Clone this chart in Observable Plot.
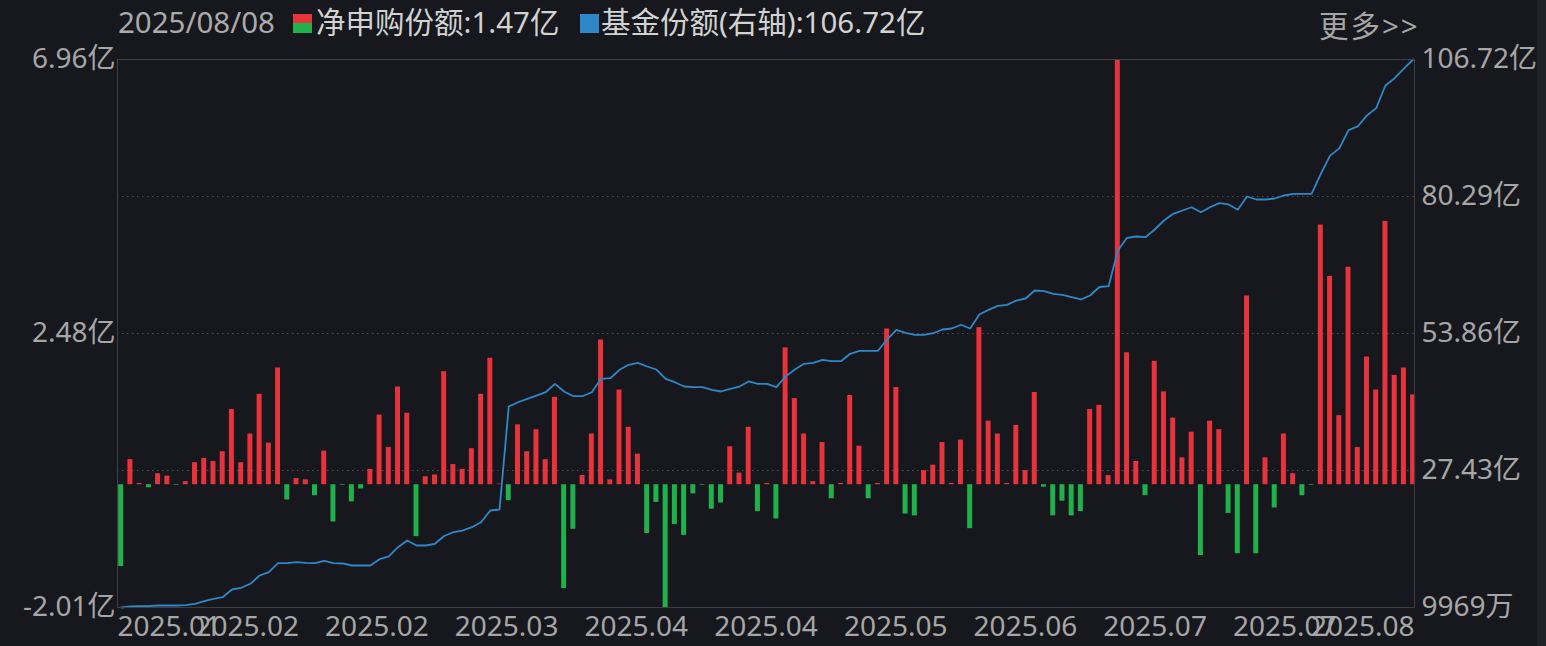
<!DOCTYPE html>
<html>
<head>
<meta charset="utf-8">
<script src="https://cdn.jsdelivr.net/npm/d3@7"></script>
<script src="https://cdn.jsdelivr.net/npm/@observablehq/plot@0.6"></script>
<style>
  html, body { margin: 0; padding: 0; background: #16181d; width: 1546px; height: 646px; overflow: hidden; }
  #wrap { position: relative; width: 1546px; height: 646px; background: #16181d; }
  #legend { position: absolute; left: 0; top: 0; width: 1546px; height: 30px; font-family: "Noto Sans", "Noto Sans CJK SC", sans-serif; font-size: 29.5px; line-height: 29px; }
  #legend .t { position: absolute; top: 7px; white-space: nowrap; }
  #legend .sq { position: absolute; top: 14px; width: 19px; height: 19px; }
  #strip { position: absolute; left: 1537px; top: 0; width: 9px; height: 646px; background: #202328; }
  #chart { position: absolute; left: 0; top: 30px; }
</style>
</head>
<body>
<div id="wrap">
  <div id="legend"></div>
  <div id="chart"></div>
  <div id="strip"></div>
</div>
<script>
// ---- data ----
const legendDate = "2025/08/08";
const seriesNames = ["净申购份额", "基金份额(右轴)"];
const seriesLatest = ["1.47亿", "106.72亿"];
const moreLabel = "更多>>";

// 净申购份额 (亿), one value per trading day
const netSubscription = [
  -1.34, 0.41, 0.02, -0.05, 0.18, 0.14, -0.01, 0.05, 0.36, 0.43,
  0.38, 0.54, 1.23, 0.36, 0.83, 1.48, 0.68, 1.91, -0.25, 0.10,
  0.08, -0.18, 0.55, -0.61, -0.01, -0.28, -0.07, 0.25, 1.14, 0.61,
  1.60, 1.17, -0.85, 0.13, 0.16, 1.85, 0.33, 0.25, 0.59, 1.48,
  2.07, 0.01, -0.26, 0.98, 0.54, 0.90, 0.41, 1.43, -1.70, -0.73,
  0.15, 0.83, 2.37, 0.08, 1.55, 0.94, 0.50, -0.80, -0.29, -2.01,
  -0.65, -0.83, -0.15, -0.01, -0.40, -0.30, 0.62, 0.19, 0.94, -0.44,
  0.02, -0.56, 2.24, 1.41, 0.83, 0.05, 0.69, -0.23, 0.02, 1.46,
  0.63, -0.23, 0.02, 2.55, 1.59, -0.48, -0.51, 0.23, 0.32, 0.69,
  0.02, 0.73, -0.72, 2.57, 1.04, 0.83, 0.02, 0.97, 0.23, 1.51,
  -0.04, -0.51, -0.27, -0.51, -0.44, 1.23, 1.30, 0.15, 6.96, 2.16,
  0.38, -0.18, 2.02, 1.52, 1.09, 0.44, 0.86, -1.16, 1.04, 0.90,
  -0.47, -1.13, 3.09, -1.13, 0.44, -0.38, 0.83, 0.18, -0.18, -0.01,
  4.25, 3.41, 1.13, 3.56, 0.61, 2.09, 1.55, 4.31, 1.79, 1.91,
  1.47
];

// 基金份额 (亿), right axis
const fundShares = [
  0.9969, 1.19, 1.25, 1.25, 1.38, 1.38, 1.38, 1.44, 1.71, 2.21,
  2.68, 2.98, 4.47, 4.80, 5.57, 7.17, 7.81, 9.54, 9.54, 9.74,
  9.62, 9.54, 10.01, 9.54, 9.49, 9.10, 9.10, 9.10, 10.31, 10.84,
  12.63, 13.92, 12.96, 12.96, 13.29, 14.79, 15.52, 15.85, 16.49, 17.45,
  19.71, 19.90, 39.77, 40.60, 41.26, 41.89, 42.53, 44.15, 42.67, 41.76,
  41.76, 42.53, 45.12, 45.23, 46.85, 47.82, 48.20, 47.49, 46.91, 45.12,
  44.46, 43.63, 43.50, 43.50, 42.99, 42.67, 43.19, 43.63, 44.60, 44.15,
  44.15, 43.50, 45.56, 46.91, 48.01, 48.20, 48.78, 48.51, 48.51, 49.94,
  50.52, 50.52, 50.52, 52.70, 54.57, 53.99, 53.61, 53.61, 53.91, 54.63,
  54.82, 55.54, 54.82, 57.52, 58.43, 59.20, 59.39, 60.22, 60.61, 62.15,
  62.02, 61.52, 61.32, 60.86, 60.42, 61.19, 62.83, 62.98, 69.87, 72.32,
  72.57, 72.44, 73.92, 75.66, 76.95, 77.59, 78.22, 77.26, 78.22, 79.00,
  78.75, 77.72, 80.29, 79.71, 79.71, 79.90, 80.48, 80.79, 80.79, 80.79,
  84.64, 88.18, 89.58, 93.11, 93.81, 95.93, 97.34, 101.70, 103.11, 104.94,
  106.72
];

const xTickLabels = ["2025.01", "2025.02", "2025.02", "2025.03", "2025.04", "2025.04",
                     "2025.05", "2025.06", "2025.07", "2025.07", "2025.08"];
const leftTicks = [6.96, 2.48, -2.01];
const leftTickLabels = ["6.96亿", "2.48亿", "-2.01亿"];
const rightTicks = [106.72, 80.29, 53.86, 27.43, 0.9969];
const rightTickLabels = ["106.72亿", "80.29亿", "53.86亿", "27.43亿", "9969万"];

// ---- styling ----
const RED = "#e8323c", GREEN = "#1fb24b", BLUE = "#2e88c8";
const TXT = "#a6a6a6";
const FONT = '"Noto Sans", "Noto Sans CJK SC", sans-serif';

// ---- legend (HTML above the SVG) ----
const legend = document.getElementById("legend");
legend.innerHTML = `
  <span class="t" style="left:118px;color:#aaaaaa">${legendDate}</span>
  <span class="sq" style="left:293px;background:linear-gradient(${RED} 0 50%, ${GREEN} 50% 100%)"></span>
  <span class="t" style="left:316px;color:#d2d2d2">${seriesNames[0]}:${seriesLatest[0]}</span>
  <span class="sq" style="left:580px;background:${BLUE}"></span>
  <span class="t" style="left:601px;color:#d2d2d2">${seriesNames[1]}:${seriesLatest[1]}</span>
  <span class="t" style="left:1319px;top:11px;color:#a6a6a6;letter-spacing:2px">${moreLabel}</span>
`;

// ---- chart ----
const rows = netSubscription.map((v, i) => ({ i, v, s: fundShares[i] }));
const toLeft = d3.scaleLinear([rightTicks[4], rightTicks[0]], [leftTicks[2], leftTicks[0]]);
const xDomain = [-0.4, netSubscription.length - 1 + 0.15];
const xTicks = d3.range(xTickLabels.length).map(k => xDomain[0] + (xDomain[1] - xDomain[0]) * k / (xTickLabels.length - 1));
const rightTicksL = rightTicks.map(toLeft);

const axisText = { tickSize: 0, fontSize: 28, fill: TXT, stroke: null, label: null };

const chart = Plot.plot({
  width: 1546,
  height: 616,
  marginLeft: 117,
  marginRight: 132,
  marginTop: 29,
  marginBottom: 39,
  style: { background: "transparent", fontFamily: FONT, fontSize: "28px", color: TXT, overflow: "visible" },
  x: { type: "linear", domain: xDomain, axis: null, label: null },
  y: { domain: [leftTicks[2], leftTicks[0]], axis: null, label: null },
  marks: [
    Plot.ruleY(rightTicksL.slice(1, 4), { stroke: "#4b4e55", strokeDasharray: "1.5,3.5", strokeWidth: 1 }),
    Plot.rectY(rows, {
      x1: d => d.i - 0.27, x2: d => d.i + 0.27, y1: 0, y2: "v",
      fill: d => d.v >= 0 ? RED : GREEN
    }),
    Plot.lineY(rows, { x: "i", y: d => toLeft(d.s), stroke: BLUE, strokeWidth: 1.8 }),
    Plot.frame({ stroke: "#3c3f46" }),
    Plot.axisY(leftTicks, { ...axisText, anchor: "left", tickPadding: 2,
      tickFormat: d => leftTickLabels[leftTicks.indexOf(d)] }),
    Plot.axisY(rightTicksL, { ...axisText, anchor: "right", tickPadding: 7,
      tickFormat: d => rightTickLabels[rightTicksL.indexOf(d)] }),
    Plot.axisX(xTicks.slice(1, -1), { ...axisText, anchor: "bottom", tickPadding: 9,
      tickFormat: d => xTickLabels[xTicks.indexOf(d)] }),
    Plot.axisX([xTicks[0]], { ...axisText, anchor: "bottom", tickPadding: 9, textAnchor: "start",
      tickFormat: d => xTickLabels[0] }),
    Plot.axisX([xTicks[xTicks.length - 1]], { ...axisText, anchor: "bottom", tickPadding: 9, textAnchor: "end",
      tickFormat: d => xTickLabels[xTickLabels.length - 1] })
  ]
});
document.getElementById("chart").appendChild(chart);
</script>
</body>
</html>
